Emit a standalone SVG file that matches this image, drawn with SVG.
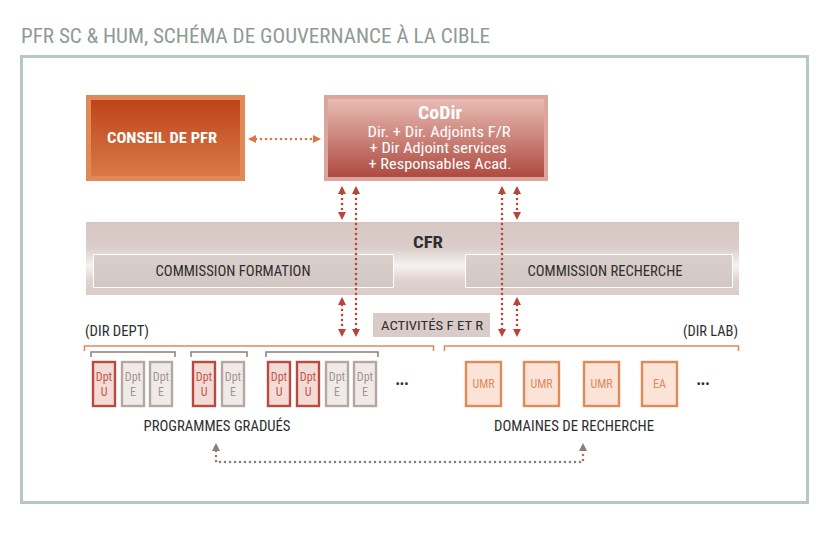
<svg xmlns="http://www.w3.org/2000/svg" width="838" height="534" viewBox="0 0 838 534">
<defs>
<style>
text{font-family:"Roboto Condensed",Roboto,"Liberation Sans",sans-serif}
.dot{fill:none;stroke-width:2.6;stroke-dasharray:0 5;stroke-linecap:round}
.red{stroke:#b5463c}
.org{stroke:#d9774a}
.gry{stroke:#8e7c77}
.dk{fill:#2e2e2e}
.u rect{fill:#f3dbd6;stroke:#b84a40;stroke-width:2.4}
.u text{fill:#c4584d;font-size:12px;text-anchor:middle}
.e rect{fill:#f0ebe9;stroke:#b5a7a2;stroke-width:2.4}
.e text{fill:#a3958f;font-size:12px;text-anchor:middle}
.l rect{fill:#fbe4d7;stroke:#e08a5a;stroke-width:2.4}
.l text{fill:#e08a5a;font-size:12px;text-anchor:middle}
.brk{fill:none;stroke:#e08a5a;stroke-width:1.6}
.gb{fill:none;stroke:#8e7f7a;stroke-width:1.5}
</style>
<linearGradient id="gCons" x1="0" y1="0" x2="0" y2="1"><stop offset="0" stop-color="#be4218"/><stop offset="1" stop-color="#da7b4a"/></linearGradient>
<linearGradient id="gCod" x1="0" y1="0" x2="0" y2="1"><stop offset="0" stop-color="#e9bfb7"/><stop offset="1" stop-color="#ad473d"/></linearGradient>
<linearGradient id="gCfr" x1="0" y1="0" x2="0" y2="1"><stop offset="0" stop-color="#d7c7c3"/><stop offset="0.35" stop-color="#dacdca"/><stop offset="0.6" stop-color="#f5f2f1"/><stop offset="0.8" stop-color="#dfd3d0"/><stop offset="1" stop-color="#d9cbc7"/></linearGradient>
<linearGradient id="gCom" x1="0" y1="0" x2="0" y2="1"><stop offset="0" stop-color="#d9cfcc"/><stop offset="1" stop-color="#d3c7c3"/></linearGradient>
<marker id="aR" viewBox="0 0 8 8" refX="5" refY="4" markerWidth="8" markerHeight="8" markerUnits="userSpaceOnUse" orient="auto-start-reverse"><path d="M0,0 L8,4 L0,8 z" fill="#b5463c"/></marker>
<marker id="aO" viewBox="0 0 8 8" refX="5" refY="4" markerWidth="8" markerHeight="8" markerUnits="userSpaceOnUse" orient="auto-start-reverse"><path d="M0,0 L8,4 L0,8 z" fill="#d9774a"/></marker>
<marker id="aG" viewBox="0 0 8 8" refX="5" refY="4" markerWidth="8" markerHeight="8" markerUnits="userSpaceOnUse" orient="auto-start-reverse"><path d="M0,0 L8,4 L0,8 z" fill="#8e7c77"/></marker>
</defs>
<rect width="838" height="534" fill="#ffffff"/>
<text id="title" x="21" y="43" font-size="20" fill="#8f9a96" textLength="469" lengthAdjust="spacingAndGlyphs">PFR SC &amp; HUM, SCHÉMA DE GOUVERNANCE À LA CIBLE</text>
<rect id="frame" x="21.5" y="56.5" width="786" height="446" fill="none" stroke="#b6c8c2" stroke-width="3"/>

<g id="conseil">
<rect x="88.5" y="97.5" width="154" height="81" fill="url(#gCons)" stroke="#e08a5a" stroke-width="5"/>
<text x="162" y="143" font-size="15" font-weight="bold" fill="#ffffff" text-anchor="middle" textLength="110" lengthAdjust="spacingAndGlyphs">CONSEIL DE PFR</text>
</g>

<g id="codir">
<rect x="326" y="97" width="220" height="82" fill="url(#gCod)" stroke="#dca69d" stroke-width="4"/>
<text x="440" y="119" font-size="18" font-weight="bold" fill="#ffffff" text-anchor="middle" textLength="44" lengthAdjust="spacingAndGlyphs">CoDir</text>
<text x="439" y="137" font-size="14" fill="#ffffff" text-anchor="middle" textLength="143" lengthAdjust="spacingAndGlyphs">Dir. + Dir. Adjoints F/R</text>
<text x="438" y="153" font-size="14" fill="#ffffff" text-anchor="middle" textLength="137" lengthAdjust="spacingAndGlyphs">+ Dir Adjoint services</text>
<text x="440" y="169" font-size="14" fill="#ffffff" text-anchor="middle" textLength="143" lengthAdjust="spacingAndGlyphs">+ Responsables Acad.</text>
</g>

<g id="cfr">
<rect x="86" y="222" width="653" height="73" fill="url(#gCfr)"/>
<text x="428" y="248" font-size="16" font-weight="bold" class="dk" text-anchor="middle" textLength="30" lengthAdjust="spacingAndGlyphs">CFR</text>
</g>
<g id="comForm">
<rect x="93.5" y="254.5" width="300" height="33" fill="url(#gCom)" stroke="#ffffff" stroke-width="1"/>
<text x="233" y="276" font-size="14" class="dk" text-anchor="middle" textLength="155" lengthAdjust="spacingAndGlyphs">COMMISSION FORMATION</text>
</g>
<g id="comRech">
<rect x="465.5" y="254.5" width="267" height="33" fill="url(#gCom)" stroke="#ffffff" stroke-width="1"/>
<text x="605" y="276" font-size="14" class="dk" text-anchor="middle" textLength="155" lengthAdjust="spacingAndGlyphs">COMMISSION RECHERCHE</text>
</g>

<g id="activites">
<rect x="373" y="313" width="117" height="24" fill="#d9ccc8"/>
<text x="432" y="330" font-size="13" class="dk" text-anchor="middle" textLength="102" lengthAdjust="spacingAndGlyphs">ACTIVITÉS F ET R</text>
</g>

<g id="connectors">
<line class="dot org" x1="251" y1="139" x2="318" y2="139" marker-start="url(#aO)" marker-end="url(#aO)"/>
<line class="dot red" x1="342" y1="189" x2="342" y2="217" marker-start="url(#aR)" marker-end="url(#aR)"/>
<line class="dot red" x1="342" y1="300" x2="342" y2="334" marker-start="url(#aR)" marker-end="url(#aR)"/>
<line class="dot red" x1="356" y1="189" x2="356" y2="334" marker-start="url(#aR)" marker-end="url(#aR)"/>
<line class="dot red" x1="502" y1="189" x2="502" y2="334" marker-start="url(#aR)" marker-end="url(#aR)"/>
<line class="dot red" x1="517" y1="189" x2="517" y2="217" marker-start="url(#aR)" marker-end="url(#aR)"/>
<line class="dot red" x1="517" y1="300" x2="517" y2="334" marker-start="url(#aR)" marker-end="url(#aR)"/>
<polyline class="dot gry" points="216,446 216,462 583,462 583,446" marker-start="url(#aG)" marker-end="url(#aG)"/>
</g>

<g id="dirDept">
<text x="85" y="336" font-size="14" class="dk" textLength="64" lengthAdjust="spacingAndGlyphs">(DIR DEPT)</text>
<polyline class="brk" points="84.5,351 84.5,346 433.5,346 433.5,351"/>
<polyline class="gb" points="91,357 91,352 175,352 175,357"/>
<polyline class="gb" points="191,357 191,352 247,352 247,357"/>
<polyline class="gb" points="266,357 266,352 378,352 378,357"/>
<g class="u"><rect x="93" y="362" width="22" height="44"/><text x="104" y="381">Dpt</text><text x="104" y="396">U</text></g>
<g class="e"><rect x="122" y="362" width="22" height="44"/><text x="133" y="381">Dpt</text><text x="133" y="396">E</text></g>
<g class="e"><rect x="150" y="362" width="22" height="44"/><text x="161" y="381">Dpt</text><text x="161" y="396">E</text></g>
<g class="u"><rect x="193" y="362" width="22" height="44"/><text x="204" y="381">Dpt</text><text x="204" y="396">U</text></g>
<g class="e"><rect x="222" y="362" width="22" height="44"/><text x="233" y="381">Dpt</text><text x="233" y="396">E</text></g>
<g class="u"><rect x="268" y="362" width="22" height="44"/><text x="279" y="381">Dpt</text><text x="279" y="396">U</text></g>
<g class="u"><rect x="297" y="362" width="22" height="44"/><text x="308" y="381">Dpt</text><text x="308" y="396">U</text></g>
<g class="e"><rect x="326" y="362" width="22" height="44"/><text x="337" y="381">Dpt</text><text x="337" y="396">E</text></g>
<g class="e"><rect x="354" y="362" width="22" height="44"/><text x="365" y="381">Dpt</text><text x="365" y="396">E</text></g>
<text x="402" y="388" font-size="13" class="dk" text-anchor="middle">•••</text>
<text x="217" y="431" font-size="14" class="dk" text-anchor="middle" textLength="147" lengthAdjust="spacingAndGlyphs">PROGRAMMES GRADUÉS</text>
</g>

<g id="dirLab">
<text x="738" y="336" font-size="14" class="dk" text-anchor="end" textLength="55" lengthAdjust="spacingAndGlyphs">(DIR LAB)</text>
<polyline class="brk" points="444.5,351 444.5,346 738.5,346 738.5,351"/>
<g class="l"><rect x="466" y="362" width="35" height="44"/><text x="483.5" y="388">UMR</text></g>
<g class="l"><rect x="524" y="362" width="35" height="44"/><text x="541.5" y="388">UMR</text></g>
<g class="l"><rect x="584" y="362" width="35" height="44"/><text x="601.5" y="388">UMR</text></g>
<g class="l"><rect x="642" y="362" width="35" height="44"/><text x="659.5" y="388">EA</text></g>
<text x="703" y="388" font-size="13" class="dk" text-anchor="middle">•••</text>
<text x="574" y="431" font-size="14" class="dk" text-anchor="middle" textLength="160" lengthAdjust="spacingAndGlyphs">DOMAINES DE RECHERCHE</text>
</g>
</svg>
